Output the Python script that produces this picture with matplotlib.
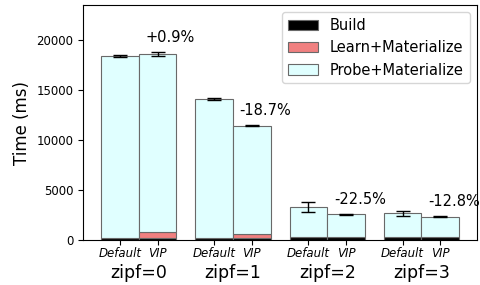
import numpy as np
import matplotlib
matplotlib.use('Agg')
import matplotlib.pyplot as plt

groups = ['zipf=0', 'zipf=1', 'zipf=2', 'zipf=3']
variants = ['Default', 'VIP']

# values in ms, order: [Default, VIP] per group
build = np.array([[220, 220], [220, 230], [280, 320], [300, 330]])
learn = np.array([[0, 620], [0, 380], [0, 0], [0, 0]])
total = np.array([[18400, 18600], [14120, 11430], [3320, 2590], [2690, 2350]])
err = np.array([[60, 230], [70, 40], [450, 40], [280, 30]])
labels = ['+0.9%', '-18.7%', '-22.5%', '-12.8%']

probe = total - build - learn

fig = plt.figure(figsize=(4.8, 2.85), dpi=100)
ax = fig.add_axes([0.173, 0.157, 0.821, 0.826])

w = 0.4
x = np.arange(len(groups))
for j in range(2):
    pos = x - w / 2 + j * w
    ax.bar(pos, build[:, j], w, color='black', edgecolor='dimgray', lw=0.8,
           label='Build' if j == 0 else None)
    ax.bar(pos, learn[:, j], w, bottom=build[:, j], color='lightcoral',
           edgecolor='dimgray', lw=0.8,
           label='Learn+Materialize' if j == 0 else None)
    ax.bar(pos, probe[:, j], w, bottom=build[:, j] + learn[:, j],
           color='lightcyan', edgecolor='dimgray', lw=0.8,
           label='Probe+Materialize' if j == 0 else None)
    ax.errorbar(pos, total[:, j], yerr=err[:, j], fmt='none', ecolor='black',
                elinewidth=1, capsize=5)

for i in range(len(groups)):
    ax.text(x[i] + 0.07, total[i, 1] + err[i, 1] + 700, labels[i],
            fontsize=10.5, ha='left', va='bottom')

ticks = np.concatenate([x - w / 2, x + w / 2])
ax.set_xticks(np.sort(ticks))
ax.set_xticklabels(variants * len(groups), fontsize=8.5, style='italic')
ax.tick_params(axis='x', length=3.5, pad=1.5)
for i, g in enumerate(groups):
    ax.text(x[i], -0.1, g, transform=ax.get_xaxis_transform(),
            ha='center', va='top', fontsize=12.5)

ax.set_ylim(0, 23500)
ax.set_yticks([0, 5000, 10000, 15000, 20000])
ax.tick_params(axis='y', labelsize=8.5)
ax.set_ylabel('Time (ms)', fontsize=12)

ax.legend(loc='upper right', fontsize=10.5, handlelength=2.1)

plt.savefig('out.png')
